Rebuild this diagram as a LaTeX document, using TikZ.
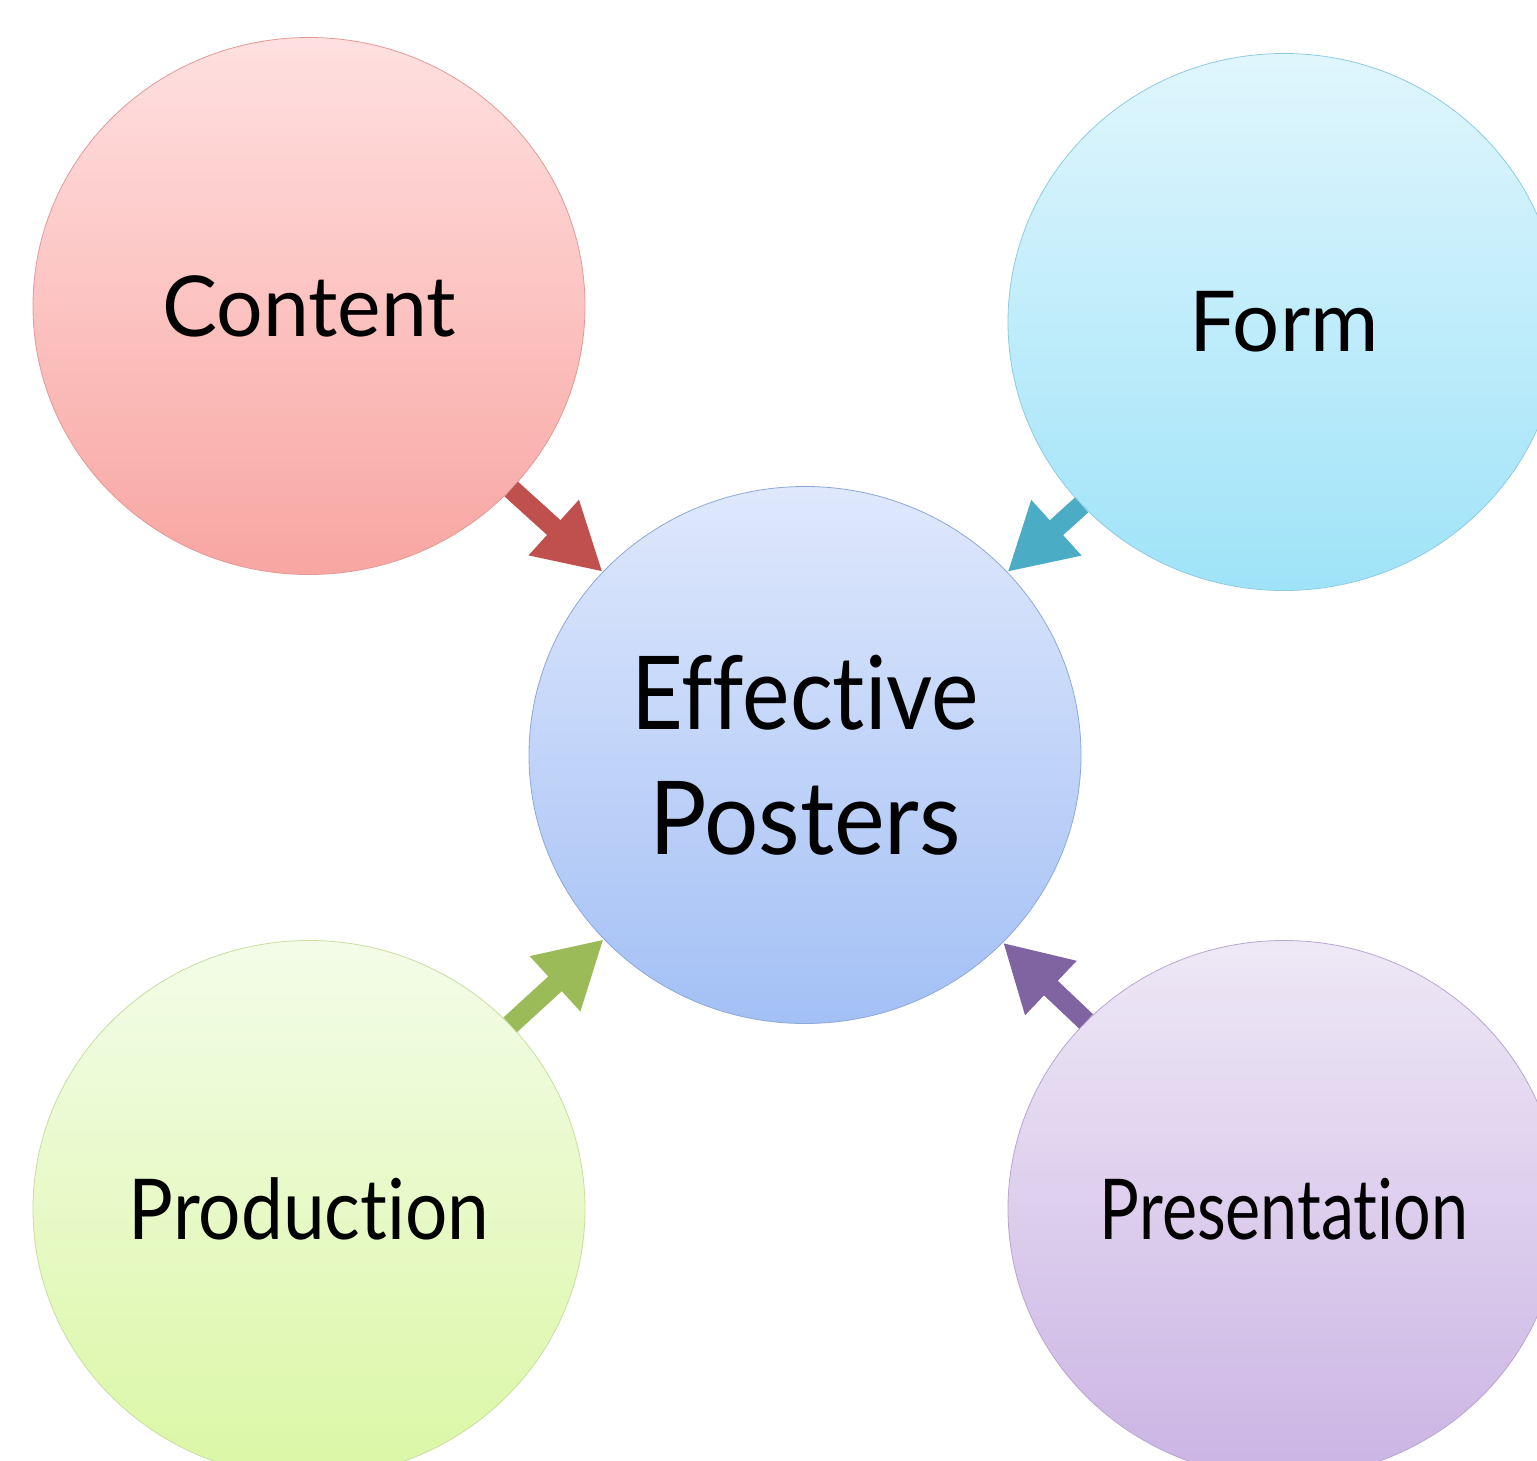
\documentclass[tikz,border=0pt]{standalone}
\usepackage{fontspec}
\setmainfont[Ligatures={NoCommon}]{Lato}
\usetikzlibrary{shapes.geometric,arrows.meta}
\definecolor{cTop}{HTML}{FFE0E0}\definecolor{cBot}{HTML}{F8A6A2}\definecolor{cBrd}{HTML}{E39A96}
\definecolor{fTop}{HTML}{E0F6FD}\definecolor{fBot}{HTML}{9FE3F8}\definecolor{fBrd}{HTML}{8FCBE0}
\definecolor{eTop}{HTML}{DFE8FC}\definecolor{eBot}{HTML}{A3C0F5}\definecolor{eBrd}{HTML}{8EA8D8}
\definecolor{pTop}{HTML}{F3FCE8}\definecolor{pBot}{HTML}{DBF7A5}\definecolor{pBrd}{HTML}{C8DEA0}
\definecolor{rTop}{HTML}{EEE8F6}\definecolor{rBot}{HTML}{CBB4E4}\definecolor{rBrd}{HTML}{B9A6D0}
\definecolor{aRed}{HTML}{C0504D}\definecolor{aTeal}{HTML}{4BACC6}
\definecolor{aGreen}{HTML}{9BBB59}\definecolor{aPurple}{HTML}{8064A2}
\newcommand{\hsq}[2]{\scalebox{#1}[1]{#2}}
\tikzset{
  bubble/.style={ellipse, minimum width=552pt, minimum height=537pt, inner sep=0pt,
    line width=0.8pt, align=center, font=\fontsize{84}{100}\selectfont},
  blockarrow/.style={line width=20pt, -{Triangle[width=70pt,length=66pt]}},
}
\begin{document}
\begin{tikzpicture}[x=1pt,y=-1pt]
\useasboundingbox (0,0) rectangle (1537,1460);
\clip (0,0) rectangle (1537,1460);
\fill[white] (0,0) rectangle (1537,1460);
\node[bubble, draw=cBrd, top color=cTop, bottom color=cBot] (content) at (309,306) {\hsq{0.98}{Content}};
\node[bubble, draw=fBrd, top color=fTop, bottom color=fBot] (form) at (1284,322) {\hsq{0.99}{Form}};
\node[bubble, draw=eBrd, top color=eTop, bottom color=eBot, font=\fontsize{102}{125}\selectfont] (eff) at (805,755) {\hsq{0.88}{Effective}\\\hsq{0.94}{Posters}};
\node[bubble, draw=pBrd, top color=pTop, bottom color=pBot] (prod) at (309,1209) {\hsq{0.89}{Production}};
\node[bubble, draw=rBrd, top color=rTop, bottom color=rBot] (pres) at (1284,1209) {\hsq{0.79}{Presentation}};
\draw[blockarrow, aRed] (content) -- (eff);
\draw[blockarrow, aTeal] (form) -- (eff);
\draw[blockarrow, aGreen] (prod) -- (eff);
\draw[blockarrow, aPurple] (pres) -- (eff);
\end{tikzpicture}
\end{document}
